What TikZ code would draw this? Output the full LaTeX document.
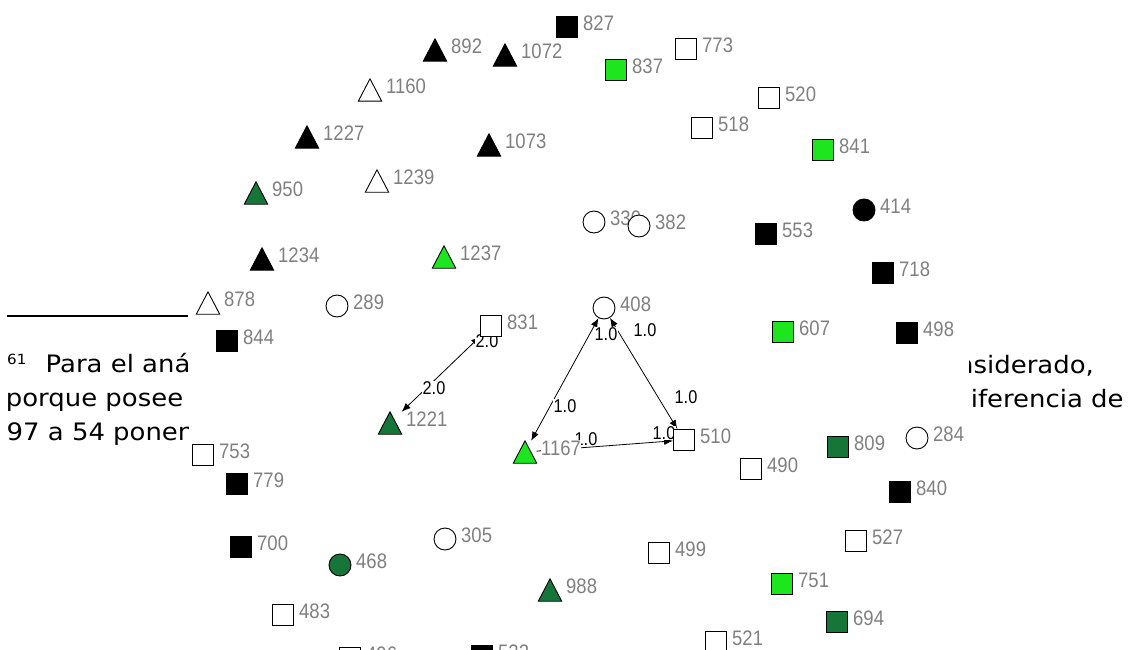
\documentclass[tikz,border=0pt]{standalone}
\usepackage{fontspec}
\usetikzlibrary{arrows.meta}
\newfontfamily\lblfont[FakeStretch=0.88]{Liberation Sans}
\newfontfamily\notefont[FakeStretch=1.08]{DejaVu Sans}
\definecolor{lg}{RGB}{30,230,30}
\definecolor{dg}{RGB}{22,118,58}
\definecolor{lblgray}{RGB}{128,128,128}
\pgfdeclarelayer{notelayer}
\pgfdeclarelayer{edgelayer}
\pgfdeclarelayer{elablayer}
\pgfsetlayers{notelayer,edgelayer,elablayer,main}
\tikzset{
  sqm/.style={rectangle, minimum size=21pt, inner sep=0pt, draw=black, line width=0.9pt},
  cim/.style={circle, minimum size=22pt, inner sep=0pt, draw=black, line width=0.9pt},
  trm/.style={rectangle, minimum width=23pt, minimum height=22pt, inner sep=0pt, draw=none},
  trpath/.style={draw=black, line width=0.9pt, line join=miter},
  nlab/.style={font=\lblfont\fontsize{21}{21}\selectfont, text=lblgray, anchor=base west, inner sep=0.5pt, fill=white},
  elab/.style={font=\lblfont\fontsize{18.5}{18.5}\selectfont, text=black, inner sep=0.3pt, fill=white},
  edge/.style={draw=black, line width=0.8pt},
  notetext/.style={font=\notefont\fontsize{24}{24}\selectfont, text=black, anchor=base west, inner sep=0pt},
  >={Latex[length=9pt,width=7pt]}
}
\newcommand\SQ[5]{%
  \node[sqm, fill=#4] (#1) at (#2,#3) {};
  \node[nlab] (#1l) at ([xshift=15.5pt,yshift=-3.5pt]#1.center) {#5};
}
\newcommand\CI[5]{%
  \node[cim, fill=#4] (#1) at (#2,#3) {};
  \node[nlab] (#1l) at ([xshift=15.5pt,yshift=-3.5pt]#1.center) {#5};
}
\newcommand\TR[5]{%
  \node[trm] (#1) at (#2,#3) {};
  \filldraw[trpath, fill=#4] (#1.south west) -- (#1.south east) -- (#1.north) -- cycle;
  \node[nlab] (#1l) at ([xshift=15.5pt,yshift=-3.5pt]#1.center) {#5};
}
\begin{document}
\begin{tikzpicture}[x=1pt,y=-1pt]
\clip (0,0) rectangle (1132,650);

% footnote behind the diagram
\begin{pgfonlayer}{notelayer}
\fill[white] (0,0) rectangle (1132,650);
\draw[line width=1.2pt] (7,316) -- (188,316);
\node[notetext, font=\notefont\fontsize{14}{14}\selectfont] (f61) at (7,364) {61};
\node[notetext] (fl1) at (45.5,372) {Para el aná};
\node[notetext] (fl2) at (5.7,406) {porque posee};
\node[notetext] (fl3) at (6.5,440) {97 a 54 ponen};
\node[notetext] (fr1) at (957,373) {nsiderado,};
\node[notetext] (fr2) at (970.6,407) {iferencia de};
\fill[white] (189,0) rectangle (969,650);
\end{pgfonlayer}

% nodes
\SQ{n827}{567}{27}{black}{827}
\TR{n892}{435}{50}{black}{892}
\TR{n1072}{505}{55}{black}{1072}
\SQ{n837}{616}{70}{lg}{837}
\SQ{n773}{686}{49}{white}{773}
\TR{n1160}{370}{90}{white}{1160}
\SQ{n520}{769}{98}{white}{520}
\SQ{n518}{702}{128}{white}{518}
\TR{n1227}{307}{137}{black}{1227}
\TR{n1073}{489}{145}{black}{1073}
\SQ{n841}{823}{150}{lg}{841}
\TR{n1239}{377}{181}{white}{1239}
\TR{n950}{256}{193}{dg}{950}
\CI{n330}{594}{222}{white}{330}
\CI{n382}{639}{226}{white}{382}
\CI{n414}{864}{210}{black}{414}
\SQ{n553}{766}{234}{black}{553}
\TR{n1234}{262}{259}{black}{1234}
\TR{n1237}{444}{257}{lg}{1237}
\SQ{n718}{883}{273}{black}{718}
\TR{n878}{208}{303}{white}{878}
\CI{n289}{337}{306}{white}{289}
\CI{n408}{604}{308}{white}{408}
\SQ{n831}{491}{326}{white}{831}
\SQ{n607}{783}{332}{lg}{607}
\SQ{n498}{907}{333}{black}{498}
\SQ{n844}{227}{341}{black}{844}
\TR{n1221}{390}{423}{dg}{1221}
\SQ{n753}{203}{455}{white}{753}
\TR{n1167}{525}{452}{lg}{1167}
\SQ{n510}{684}{440}{white}{510}
\SQ{n809}{838}{447}{dg}{809}
\CI{n284}{917}{438}{white}{284}
\SQ{n490}{751}{469}{white}{490}
\SQ{n779}{237}{484}{black}{779}
\SQ{n840}{900}{492}{black}{840}
\CI{n305}{445}{539}{white}{305}
\SQ{n700}{241}{547}{black}{700}
\SQ{n527}{856}{541}{white}{527}
\SQ{n499}{659}{553}{white}{499}
\CI{n468}{340}{565}{dg}{468}
\TR{n988}{550}{590}{dg}{988}
\SQ{n751}{782}{584}{lg}{751}
\SQ{n483}{283}{615}{white}{483}
\SQ{n694}{837}{622}{dg}{694}
\SQ{n521}{716}{642}{white}{521}
\SQ{n496}{350}{658}{white}{496}
\SQ{n522}{482}{656}{black}{522}

% edges
\begin{pgfonlayer}{edgelayer}
\draw[edge,<->] (n831) -- (n1221);
\draw[edge,<->] (n408) -- (n1167);
\draw[edge,<->] (n408) -- (n510);
\draw[edge,->] (n1167) -- (n510);
\end{pgfonlayer}

% edge labels
\begin{pgfonlayer}{elablayer}
\node[elab] (e1) at (487,341) {2.0};
\node[elab] (e2) at (434,388) {2.0};
\node[elab] (e3) at (606,334) {1.0};
\node[elab] (e4) at (565,406) {1.0};
\node[elab] (e5) at (645,330) {1.0};
\node[elab] (e6) at (686,397) {1.0};
\node[elab] (e7) at (586,439) {1.0};
\node[elab] (e8) at (664,433) {1.0};
\end{pgfonlayer}
\end{tikzpicture}
\end{document}
